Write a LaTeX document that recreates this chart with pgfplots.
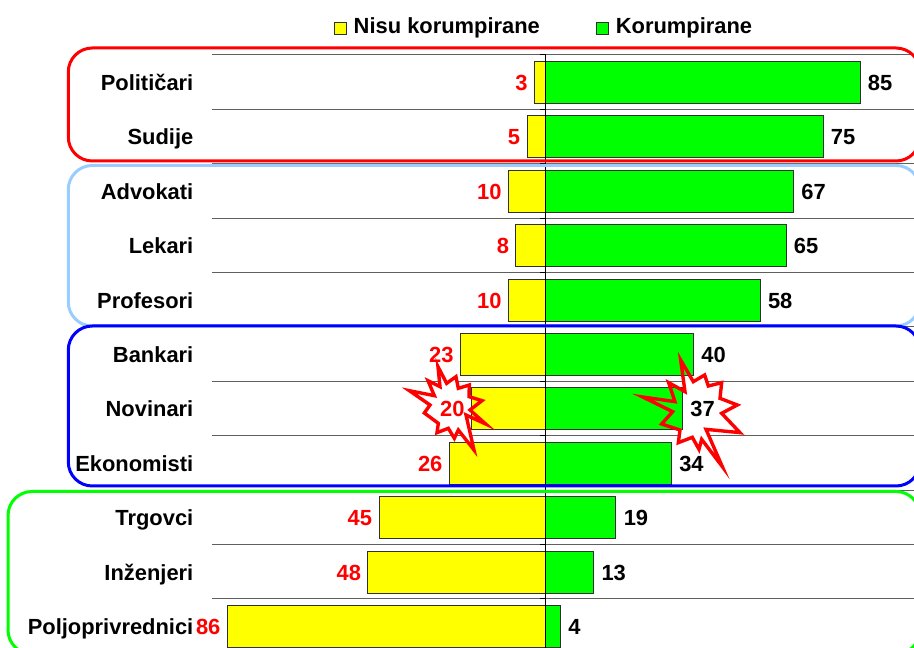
\documentclass[border=0pt]{standalone}
\usepackage{fontspec}
\setmainfont{Liberation Sans}
\usepackage{pgfplots}
\pgfplotsset{compat=1.18}
\definecolor{lightb}{RGB}{153,204,255}
\definecolor{gridc}{RGB}{95,95,95}
\definecolor{yy}{RGB}{255,255,0}
\definecolor{gg}{RGB}{0,255,0}
\definecolor{rr}{RGB}{255,0,0}
\definecolor{bb}{RGB}{0,0,255}
\newcommand{\lab}{\bfseries\fontsize{21.9}{24}\selectfont}
\pgfplotsset{common/.style={
  at={(212pt,0pt)}, anchor=south west,
  scale only axis, width=702pt, height=594pt,
  xmin=-90.14, xmax=99.59, ymin=-0.524, ymax=10.395, y dir=reverse,
}}
\newcommand{\starA}{(152,30)--(190,95)--(224,75)--(235,108)--(275,98)--(270,145)--(322,165)--(275,190)--(330,248)--(228,238)--(277,350)--(215,268)--(207,298)--(187,262)--(145,278)--(150,240)--(95,222)--(128,185)--(38,141)--(135,155)--(116,98)--(165,125)--cycle}
\newcommand{\starB}{(129,35)--(155,85)--(183,65)--(190,100)--(223,90)--(222,125)--(261,137)--(225,165)--(272,207)--(213,180)--(237,285)--(190,225)--(178,250)--(160,220)--(126,233)--(130,205)--(88,174)--(105,150)--(43,107)--(118,122)--(99,77)--(135,95)--cycle}
\begin{document}
\begin{tikzpicture}
\path[use as bounding box, clip] (0,0) rectangle (914pt,648pt);
\begin{axis}[common,
  axis line style={draw=none},
  ytick={0,1,2,3,4,5,6,7,8,9,10},
  yticklabels={Političari,Sudije,Advokati,Lekari,Profesori,Bankari,Novinari,Ekonomisti,Trgovci,Inženjeri,Poljoprivrednici},
  xtick=\empty,
  tick style={draw=none},
  yticklabel style={anchor=east,inner sep=0pt,text height=18pt,text depth=2pt,font=\lab,xshift=-18.5pt},
  ]
  \pgfplotsinvokeforeach{-0.51,0.49,1.49,2.49,3.49,4.49,5.49,6.49,7.49,8.49,9.49}{
    \draw[gridc,line width=0.9pt] (axis cs:-90.14,#1)--(axis cs:99.59,#1);
  }
\end{axis}
\begin{scope}[shift={(630pt,298pt)},x=0.3333pt,y=-0.3333pt]
  \fill[white] \starA;
\end{scope}
\begin{scope}[shift={(395pt,293pt)},x=0.3333pt,y=-0.3333pt]
  \fill[white] \starB;
\end{scope}
\begin{axis}[common,
  axis lines=none,
  xbar,
  bar shift=0pt, bar width=42pt,
  point meta=explicit symbolic,
  nodes near coords,
  legend columns=2,
  legend style={at={(331/702,1.043)},anchor=center,draw=none,fill=none,inner sep=0pt,
    font=\lab, /tikz/every even column/.append style={column sep=56pt},
    nodes={inner sep=0pt,text height=16pt,text depth=5pt}},
  legend image code/.code={\draw[#1,line width=0.9pt] (0pt,-6pt) rectangle (12.5pt,6.5pt);\path (19pt,0pt);},
  ]
  \addplot[fill=yy,draw=gridc!50!black,line width=0.9pt,
    every node near coord/.append style={font=\lab,rr,anchor=east,inner sep=0pt,xshift=-6.5pt,text height=18pt,text depth=2pt}]
    coordinates {(-3,0)[3] (-5,1)[5] (-10,2)[10] (-8,3)[8] (-10,4)[10] (-23,5)[23] (-20,6)[20] (-26,7)[26] (-45,8)[45] (-48,9)[48] (-86,10)[86]};
  \addlegendentry{Nisu korumpirane}
  \addplot[fill=gg,draw=gridc!50!black,line width=0.9pt,
    every node near coord/.append style={font=\lab,black,anchor=west,inner sep=0pt,xshift=7.5pt,text height=18pt,text depth=2pt}]
    coordinates {(85,0)[85] (75,1)[75] (67,2)[67] (65,3)[65] (58,4)[58] (40,5)[40] (37,6)[37] (34,7)[34] (19,8)[19] (13,9)[13] (4,10)[4]};
  \addlegendentry{Korumpirane}
  \draw[black,line width=0.9pt] (axis cs:0,-0.524)--(axis cs:0,10.395);
  \pgfplotsinvokeforeach{-0.51,0.49,1.49,2.49,3.49,4.49,5.49,6.49,7.49,8.49,9.49}{
    \draw[black,line width=0.9pt] (axis cs:-1.6,#1)--(axis cs:0,#1);
  }
\end{axis}
\begin{scope}[shift={(630pt,298pt)},x=0.3333pt,y=-0.3333pt]
  \draw[rr,line width=3.4pt] \starA;
\end{scope}
\begin{scope}[shift={(395pt,293pt)},x=0.3333pt,y=-0.3333pt]
  \draw[rr,line width=3.4pt] \starB;
\end{scope}
\begin{scope}[shift={(0pt,648pt)},x=1pt,y=-1pt]
  \draw[lightb,line width=3pt,rounded corners=24pt] (68.3,165.5) rectangle (920,326);
  \draw[rr,line width=3pt,rounded corners=24pt] (68.3,48) rectangle (920,161);
  \draw[bb,line width=3pt,rounded corners=24pt] (68.3,326) rectangle (920,486);
  \draw[gg,line width=3pt,rounded corners=24pt] (8,491.5) rectangle (920,654);
\end{scope}
\end{tikzpicture}
\end{document}
